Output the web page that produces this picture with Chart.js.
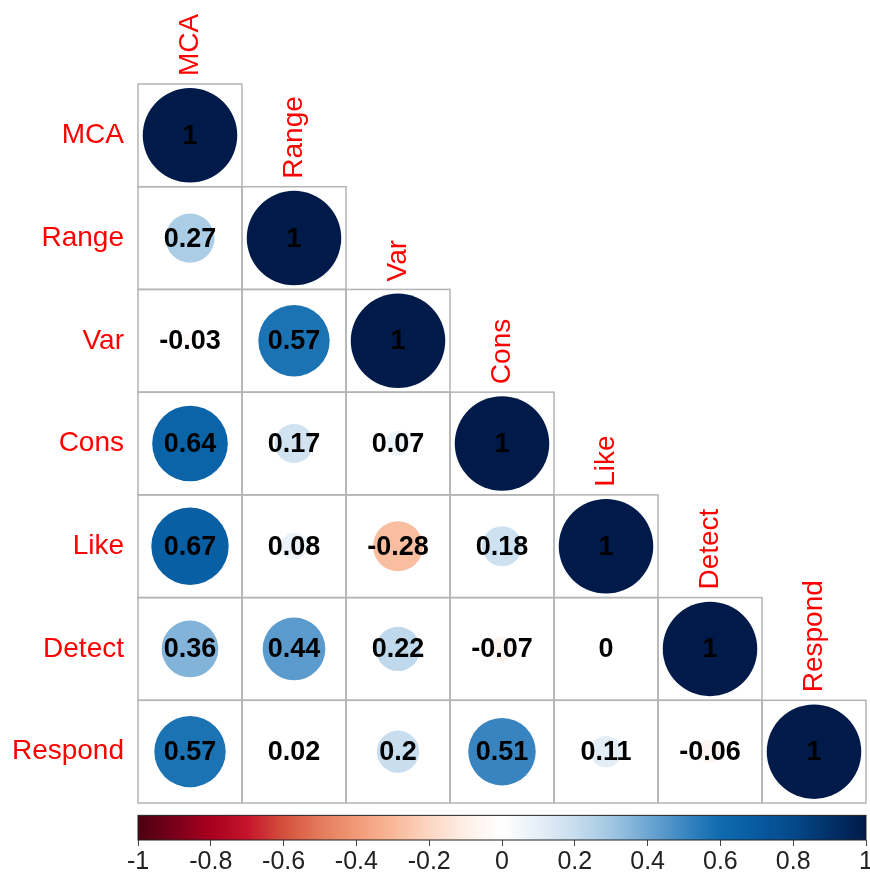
<!DOCTYPE html>
<html>
<head>
<meta charset="utf-8">
<script src="https://cdn.jsdelivr.net/npm/chart.js@4"></script>
<style>
body { margin: 0; background: #fff; }
#wrap { width: 870px; height: 877px; }
</style>
</head>
<body>
<div id="wrap"><canvas id="chart"></canvas></div>
<script>
const variables = ['MCA', 'Range', 'Var', 'Cons', 'Like', 'Detect', 'Respond'];
const rowMCA = [1];
const rowRange = [0.27, 1];
const rowVar = [-0.03, 0.57, 1];
const rowCons = [0.64, 0.17, 0.07, 1];
const rowLike = [0.67, 0.08, -0.28, 0.18, 1];
const rowDetect = [0.36, 0.44, 0.22, -0.07, 0, 1];
const rowRespond = [0.57, 0.02, 0.2, 0.51, 0.11, -0.06, 1];
const legendTicks = [-1, -0.8, -0.6, -0.4, -0.2, 0, 0.2, 0.4, 0.6, 0.8, 1];

const matrix = [rowMCA, rowRange, rowVar, rowCons, rowLike, rowDetect, rowRespond];

const FONT = "'Liberation Sans', Arial, sans-serif";
// colour ramp from -1 to 1, one stop every 0.1
const ramp = ['#4c0013', '#7a0019', '#a8001e', '#c4142b', '#d4503c', '#e47a5c', '#f29a78', '#f8b898',
	'#fcd6c2', '#feefe7', '#ffffff', '#e6eff7', '#c8ddee', '#a0c6e2', '#6ea7d2', '#3b87c2',
	'#0f6aae', '#075aa0', '#04498a', '#023168', '#001a4a'];
const barTop = 7.62, barBottom = 7.86;

function hex(c) {
	return [1, 3, 5].map(i => parseInt(c.slice(i, i + 2), 16));
}
function colorFor(v) {
	const t = Math.max(0, Math.min(20, (v + 1) * 10));
	const i = Math.min(19, Math.floor(t));
	const f = t - i;
	const a = hex(ramp[i]), b = hex(ramp[i + 1]);
	const c = a.map((n, k) => Math.round(n + (b[k] - n) * f));
	return `rgb(${c[0]},${c[1]},${c[2]})`;
}

const points = [];
matrix.forEach((row, i) => {
	row.forEach((v, j) => {
		points.push({x: j + 1, y: i + 1, v: v});
	});
});

function cellSize(chart) {
	const {x, y} = chart.scales;
	const s = Math.min(x.getPixelForValue(2) - x.getPixelForValue(1), y.getPixelForValue(2) - y.getPixelForValue(1));
	return isFinite(s) ? s : 0;
}

const corrPlugin = {
	id: 'corr',
	beforeDatasetsDraw(chart) {
		const {ctx, scales: {x, y}} = chart;
		ctx.save();
		ctx.strokeStyle = '#b4b4b4';
		ctx.lineWidth = 1.5;
		matrix.forEach((row, i) => {
			row.forEach((v, j) => {
				const x0 = x.getPixelForValue(j + 0.5), x1 = x.getPixelForValue(j + 1.5);
				const y0 = y.getPixelForValue(i + 0.5), y1 = y.getPixelForValue(i + 1.5);
				ctx.strokeRect(x0, y0, x1 - x0, y1 - y0);
			});
		});
		ctx.restore();
	},
	afterDraw(chart) {
		const {ctx, scales: {x, y, cb}} = chart;
		ctx.save();
		// numbers inside the cells
		ctx.fillStyle = '#000';
		ctx.font = `bold 27px ${FONT}`;
		ctx.textAlign = 'center';
		ctx.textBaseline = 'middle';
		points.forEach(p => {
			ctx.fillText(String(p.v), x.getPixelForValue(p.x), y.getPixelForValue(p.y) + 1);
		});
		// column labels above the diagonal
		ctx.fillStyle = '#ff0000';
		ctx.font = `28px ${FONT}`;
		ctx.textAlign = 'left';
		variables.forEach((name, j) => {
			ctx.save();
			ctx.translate(x.getPixelForValue(j + 1), y.getPixelForValue(j + 0.5) - 8);
			ctx.rotate(-Math.PI / 2);
			ctx.fillText(name, 0, 0);
			ctx.restore();
		});
		// colour bar
		const x0 = cb.getPixelForValue(-1), x1 = cb.getPixelForValue(1);
		const y0 = y.getPixelForValue(barTop), y1 = y.getPixelForValue(barBottom);
		const grad = ctx.createLinearGradient(x0, 0, x1, 0);
		for (let k = 0; k <= 200; k++) {
			grad.addColorStop(k / 200, colorFor(-1 + k / 100));
		}
		ctx.fillStyle = grad;
		ctx.fillRect(x0, y0, x1 - x0, y1 - y0);
		ctx.strokeStyle = '#222';
		ctx.lineWidth = 1;
		ctx.strokeRect(x0, y0, x1 - x0, y1 - y0);
		ctx.restore();
	}
};

new Chart(document.getElementById('chart'), {
	type: 'scatter',
	data: {
		datasets: [{
			data: points,
			pointBorderWidth: 0,
			pointBackgroundColor: ctx => colorFor(ctx.raw.v),
			pointRadius: ctx => cellSize(ctx.chart) * 0.46 * Math.sqrt(Math.abs(ctx.raw.v))
		}]
	},
	options: {
		responsive: true,
		maintainAspectRatio: false,
		animation: false,
		events: [],
		layout: {padding: {top: 84, right: 4, left: 0, bottom: 0}},
		plugins: {legend: {display: false}, tooltip: {enabled: false}},
		scales: {
			x: {type: 'linear', display: false, min: 0.5, max: 7.5},
			y: {
				type: 'linear',
				reverse: true,
				min: 0.5,
				max: barBottom,
				grid: {display: false, drawTicks: false},
				border: {display: false},
				afterBuildTicks: s => { s.ticks = variables.map((_, i) => ({value: i + 1})); },
				afterFit: s => { s.width = 138; s.paddingTop = 0; s.paddingBottom = 0; },
				ticks: {
					color: '#ff0000',
					padding: 14,
					font: {family: FONT, size: 28},
					callback: v => variables[v - 1]
				}
			},
			cb: {
				type: 'linear',
				axis: 'x',
				position: 'bottom',
				min: -1,
				max: 1,
				grid: {drawOnChartArea: false, drawTicks: true, tickLength: 6, color: '#444'},
				border: {display: false},
				afterBuildTicks: s => { s.ticks = legendTicks.map(v => ({value: v})); },
				afterFit: s => { s.height = 37; s.paddingLeft = 0; s.paddingRight = 0; },
				ticks: {
					color: '#222',
					padding: 1,
					maxRotation: 0,
					autoSkip: false,
					font: {family: FONT, size: 25},
					callback: v => String(v)
				}
			}
		}
	},
	plugins: [corrPlugin]
});
</script>
</body>
</html>
